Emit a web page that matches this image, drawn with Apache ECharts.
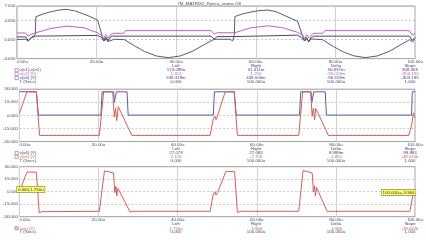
<!DOCTYPE html>
<html><head><meta charset="utf-8">
<script src="https://cdn.jsdelivr.net/npm/echarts@6/dist/echarts.min.js"></script>
<style>html,body{margin:0;padding:0;background:#fff}#c{width:426px;height:240px}</style>
</head><body><div id="c"></div><script>
// ---------- data ----------
const chartTitle = '7M_MATRIX2_Fpeco_urams Off';
const xTicks = [0, 20, 40, 60, 80, 100];
const xTickLabels = ['0.00u', '20.00u', '40.00u', '60.00u', '80.00u', '100.00u'];
const p1YTicks = [-4, 0, 4, 7];
const p1YTickLabels = ['-4.000', '0.000', '4.000', '7.000'];
const p23YTicks = [-30, -15, 0, 15, 30];
const p23YTickLabels = ['-30.000', '-15.000', '0.000', '15.000', '30.000'];

// panel 1 : v(n1)-v(n2)
const tA = [0, 2.2, 2.8, 3.6, 4.6, 4.75, 6.5, 8.5, 10.5, 12.3, 14.5, 16.8, 18.5, 20.25, 21.5, 22.0, 22.5, 23.0, 23.5, 24.5, 27, 29.5, 32, 35, 38, 41, 44, 47, 49.3, 50, 53.5, 54.2, 54.6, 54.75, 56.5, 58.5, 60.5, 63, 65, 67, 69, 70.5, 71.8, 72.3, 72.8, 73.3, 73.8, 75, 76.8, 79.5, 82, 84.5, 87.5, 90.5, 93.5, 96.2, 98.6, 99.3, 100];
const vA = [0.0, 0.05, -0.4, 0.4, 1.0, 4.75, 5.3, 5.8, 6.15, 6.3, 6.0, 5.3, 4.75, 4.05, 0.5, -0.3, 0.3, -0.4, 0.0, 0.05, -0.05, -1.3, -2.5, -3.45, -3.8, -3.45, -2.5, -1.1, -0.05, 0.05, 0.05, -0.3, 1.0, 4.8, 5.3, 5.7, 6.0, 6.15, 5.85, 5.1, 4.35, 3.8, 0.6, -0.3, 0.3, -0.5, 0.1, 0.05, -0.05, -1.5, -2.6, -3.4, -3.8, -3.45, -2.5, -1.2, -0.05, -0.5, 0.03];
// panel 1 : v(a2)
const tB = [0, 2.2, 2.8, 3.6, 4.7, 8.5, 12.5, 16.8, 20.25, 21.2, 21.8, 22.3, 22.8, 23.4, 24.2, 26.8, 27.3, 48.8, 49.6, 50.2, 54.7, 58.5, 63, 66.5, 70.5, 71.8, 72.3, 72.8, 73.3, 73.9, 74.6, 76.8, 77.3, 98.6, 99.3, 100];
const vB = [1.35, 1.35, 0.7, 1.1, 1.4, 2.3, 2.8, 2.45, 1.4, 0.9, 0.2, 1.0, 0.3, 0.9, 1.3, 1.3, 1.85, 1.85, 1.1, 1.4, 1.4, 2.4, 2.85, 2.5, 1.5, 0.9, 0.2, 1.0, 0.3, 0.9, 1.3, 1.3, 1.85, 1.85, 0.9, 1.26];
// panel 1 : v(a6)
const tC = [0, 2.2, 2.8, 3.5, 4.7, 20.25, 21.3, 21.8, 22.3, 22.8, 23.3, 24.0, 48.8, 49.5, 50.3, 54.5, 54.8, 70.5, 71.5, 72.2, 72.7, 73.3, 73.8, 74.6, 98.6, 99.3, 100];
const vC = [0.54, 0.54, -0.2, 0.3, 0.7, 0.85, 0.4, -0.3, 0.5, -0.4, 0.4, 0.7, 0.7, 0.1, 0.6, 0.6, 0.9, 0.9, 0.4, -0.3, 0.4, -0.5, 0.3, 0.7, 0.7, -0.2, 0.45];

// panel 2 : v(a6)
const tBlue = [0, 4.3, 4.8, 20.6, 20.9, 23.8, 24.0, 24.3, 24.5, 27.2, 27.5, 49.0, 49.3, 54.3, 54.8, 70.8, 71.1, 73.7, 73.9, 74.2, 74.4, 77.3, 77.6, 99.1, 99.3, 100];
const vBlue = [27.07, 27, 0.3, 0.3, 27, 27, 15, 15, 27, 27, 0.3, 0.3, 27, 27, 0.3, 0.3, 27, 27, 15, 15, 27, 27, 0.3, 0.3, 27, 27.08];
// panel 2 : v(a5)
const tRed = [0, 1.9, 4.3, 5.1, 20.2, 21.3, 23.6, 24.0, 24.3, 24.6, 25.0, 28.4, 48.2, 49.0, 49.4, 49.7, 50.0, 52.0, 54.3, 55.1, 70.6, 71.6, 73.6, 74.0, 74.3, 74.6, 74.9, 78.1, 98.4, 99.2, 99.6, 99.8, 100];
const vRed = [2.1, 27, 27, -23, -23, 27, 27, -2, 8, -6, 10, -23, -23, -4, -1, -5, -2, 27, 27, -23, -23, 27, 27, -1, 8, -5, 8, -23, -23, -10, 3, -1, -2.7];

// panel 3 : vout
const tOut = [0, 1.9, 4.3, 5.0, 5.6, 20.2, 21.5, 23.8, 24.1, 24.4, 24.6, 24.9, 28.0, 28.6, 48.2, 49.0, 49.4, 49.7, 50.1, 52.2, 54.4, 55.1, 55.9, 70.6, 71.7, 74.0, 74.3, 74.6, 74.8, 75.1, 77.8, 78.4, 98.7, 99.2, 99.6, 100];
const vOut = [0, 23.5, 23.5, -25.5, -24, -23.5, 25, 22.5, -1, 6.5, -5, 4, -24.5, -23.5, -23.5, -3, 0, -4, -1, 24.5, 24, -25, -23.5, -23.5, 25.5, 22.5, 0, 7, -5, 5, -24, -23.5, -23.5, -10, -2, -3.97];

// legends and cursor tables
const p1Legend = ['v(n1)-v(n2)', 'v(a2) (V)', 'v(a6) (V)', 'T (Secs)'];
const p1Left = ['174.098u', '1.351', '539.319m', '0.000'];
const p1Right = ['31.011m', '1.256', '449.000m', '100.000u'];
const p1Delta = ['30.837m', '-95.019m', '-90.319m', '100.000u'];
const p1Slope = ['308.369', '-950.190', '-903.195', '1.000'];
const p2Legend = ['v(a6) (V)', 'v(a5) (V)', 'T (Secs)'];
const p2Left = ['27.073', '2.125', '0.000'];
const p2Right = ['27.083', '-2.726', '100.000u'];
const p2Delta = ['9.988m', '-4.851', '100.000u'];
const p2Slope = ['99.883', '-48.515k', '1.000'];
const p3Legend = ['vout (V)', 'T (Secs)'];
const p3Left = ['1.750u', '0.000'];
const p3Right = ['-3.966', '100.000u'];
const p3Delta = ['-3.966', '100.000u'];
const p3Slope = ['-39.662k', '1.000'];
const colHeaders = ['Left', 'Right', 'Delta', 'Slope'];
const tagLeft = '0.000,1.750u';
const tagRight = '100.000u,-3.966';

// ---------- styling ----------
const FONT = '"Liberation Sans", Arial, sans-serif';
const FS = 4.4;
const TXT = '#46466a';
const DARK = '#58587a';
const DARK2 = '#484852';
const PINK = '#c85ac8';
const BLUE = '#5a5aa8';
const RED = '#d06058';
const grids = [
  { top: 6, height: 52.6 },
  { top: 89.2, height: 52.3 },
  { top: 166.7, height: 50 }
];
const pairs = (t, v) => t.map((x, i) => [x, v[i]]);

const chart = echarts.init(document.getElementById('c'), null, { renderer: 'canvas' });

const xAxes = grids.map((g, i) => ({
  type: 'value', gridIndex: i, min: 0, max: 100, interval: 20,
  axisLine: { show: false }, axisTick: { show: false },
  splitLine: { show: true, lineStyle: { color: '#d2d2d2', width: 1 } },
  axisLabel: {
    fontSize: FS, fontFamily: FONT, color: TXT, margin: 1.5,
    alignMinLabel: 'left', alignMaxLabel: 'center',
    formatter: v => { const k = xTicks.indexOf(Math.round(v)); return k >= 0 ? xTickLabels[k] : ''; }
  }
}));
const yAx = (i, min, max, interval, ticks, labels) => ({
  type: 'value', gridIndex: i, min, max, interval,
  axisLine: { show: false }, axisTick: { show: false },
  splitLine: { show: true, lineStyle: { color: '#b8b8b8', width: 0.8, type: [2, 2] } },
  axisLabel: {
    fontSize: FS, fontFamily: FONT, color: TXT, margin: 1.5,
    formatter: v => { const k = ticks.indexOf(Math.round(v)); return k >= 0 ? labels[k] : ''; }
  }
});
const yAxes = [
  yAx(0, -4, 7, 4, p1YTicks, p1YTickLabels),
  yAx(1, -30, 30, 15, p23YTicks, p23YTickLabels),
  yAx(2, -30, 30, 15, p23YTicks, p23YTickLabels)
];
const line = (name, i, data, color) => ({
  name, type: 'line', xAxisIndex: i, yAxisIndex: i, data, symbol: 'none',
  lineStyle: { color, width: 1 }, itemStyle: { color }, animation: false, z: 3
});

// ---------- text (legends / cursor tables) ----------
const gfx = [];
const txt = (x, y, s, fill, align) => gfx.push({
  type: 'text', x, y, z: 10, silent: true,
  style: { text: s, fill, font: FS + 'px ' + FONT, align: align || 'center', verticalAlign: 'middle' }
});
const box = (x, y, stroke, fill) => gfx.push({
  type: 'rect', z: 10, silent: true, shape: { x, y: y - 1.6, width: 3.2, height: 3.2 },
  style: { fill: fill || '#fff', stroke, lineWidth: 0.6 }
});
txt(209, 3.4, chartTitle, TXT);
const colX = [176, 256, 336, 410];
function table(bottom, legend, legendColors, cols, showBox) {
  const hy = bottom + 7.2;
  colHeaders.forEach((h, k) => txt(colX[k], hy, h, TXT));
  legend.forEach((name, r) => {
    const y = hy + 4.4 + r * 3.9;
    const isT = r === legend.length - 1;
    if (!isT) box(15, y, legendColors[r] === TXT ? '#707090' : legendColors[r], showBox && showBox[r]);
    txt(19.4, y, name, legendColors[r], 'left');
    cols.forEach((col, k) => txt(colX[k], y, col[r], legendColors[r]));
  });
}
table(58.6, p1Legend, [TXT, PINK, TXT, TXT], [p1Left, p1Right, p1Delta, p1Slope]);
table(141.5, p2Legend, [TXT, RED, TXT], [p2Left, p2Right, p2Delta, p2Slope]);
table(216.7, p3Legend, [RED, TXT], [p3Left, p3Right, p3Delta, p3Slope], ['#f4c8c8']);
// cursor tags
gfx.push({ type: 'text', x: 17, y: 189.5, z: 12, silent: true,
  style: { text: tagLeft, fill: '#333', font: '4.4px ' + FONT, align: 'left', verticalAlign: 'middle',
    backgroundColor: '#ffff70', borderColor: '#8a8a30', borderWidth: 0.6, padding: [0.6, 1] } });
gfx.push({ type: 'text', x: 415.5, y: 192.5, z: 12, silent: true,
  style: { text: tagRight, fill: '#333', font: '4.4px ' + FONT, align: 'right', verticalAlign: 'middle',
    backgroundColor: '#ffff70', borderColor: '#8a8a30', borderWidth: 0.6, padding: [0.6, 1] } });

chart.setOption({
  backgroundColor: '#ffffff',
  animation: false,
  grid: grids.map(g => ({ left: 16, right: 10, top: g.top, height: g.height, show: true,
    borderColor: '#9a9a9a', borderWidth: 1, backgroundColor: 'transparent', containLabel: false })),
  xAxis: xAxes,
  yAxis: yAxes,
  series: [
    line('v(n1)-v(n2)', 0, pairs(tA, vA), DARK),
    line('v(a2) (V)', 0, pairs(tB, vB), PINK),
    line('v(a6) (V)', 0, pairs(tC, vC), DARK2),
    line('v(a6) (V)', 1, pairs(tBlue, vBlue), BLUE),
    line('v(a5) (V)', 1, pairs(tRed, vRed), RED),
    line('vout (V)', 2, pairs(tOut, vOut), RED)
  ],
  graphic: gfx
});
</script></body></html>
